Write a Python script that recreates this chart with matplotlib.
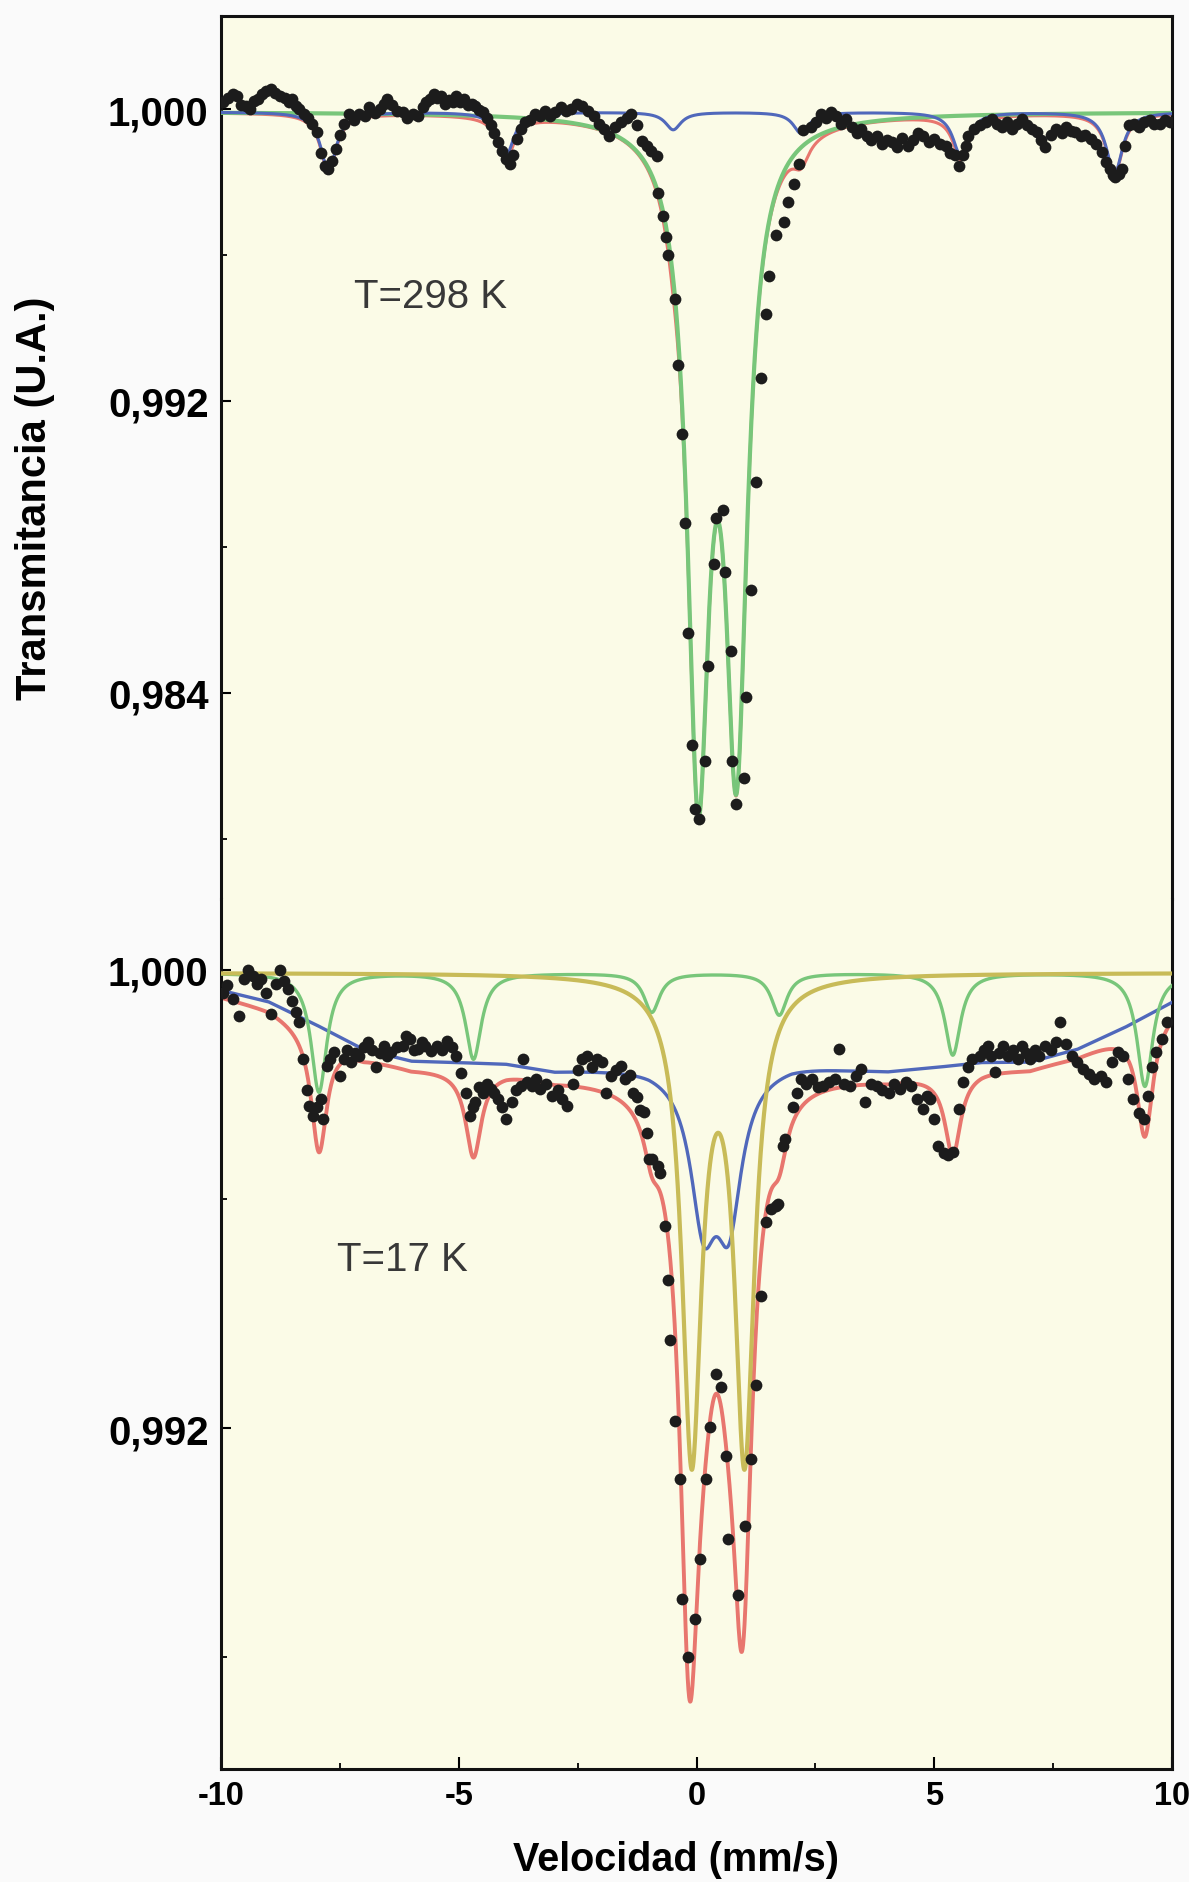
import numpy as np
import matplotlib
matplotlib.use("Agg")
import matplotlib.pyplot as plt
from matplotlib.ticker import FixedLocator, FuncFormatter

# ---------------- T = 298 K : measured points (velocity mm/s, transmission) ----------------
top_points = [
    (-9.95, 1.00018), (-9.85, 1.00030), (-9.75, 1.00040), (-9.67, 1.00036), (-9.58, 1.00012),
    (-9.47, 1.00009), (-9.38, 1.00000), (-9.30, 1.00022), (-9.23, 1.00027), (-9.14, 1.00040),
    (-9.05, 1.00050), (-8.95, 1.00055), (-8.86, 1.00045), (-8.75, 1.00036), (-8.66, 1.00030),
    (-8.58, 1.00020), (-8.51, 1.00027), (-8.43, 1.00008), (-8.35, 1.00000), (-8.26, 0.99985),
    (-8.17, 0.99975), (-8.08, 0.99960), (-7.98, 0.99936), (-7.90, 0.99880), (-7.82, 0.99845),
    (-7.74, 0.99836), (-7.66, 0.99858), (-7.58, 0.99890), (-7.50, 0.99930), (-7.42, 0.99960),
    (-7.30, 0.99985), (-7.20, 0.99970), (-7.10, 0.99985), (-6.98, 0.99982), (-6.88, 1.00005),
    (-6.76, 0.99990), (-6.66, 1.00000), (-6.58, 1.00015), (-6.50, 1.00027), (-6.40, 1.00010),
    (-6.30, 0.99995), (-6.18, 0.99991), (-6.08, 0.99975), (-5.97, 0.99985), (-5.86, 0.99982),
    (-5.75, 1.00005), (-5.68, 1.00020), (-5.61, 1.00027), (-5.52, 1.00040), (-5.45, 1.00030),
    (-5.37, 1.00036), (-5.28, 1.00015), (-5.20, 1.00025), (-5.13, 1.00018), (-5.05, 1.00035),
    (-4.97, 1.00020), (-4.89, 1.00027), (-4.80, 1.00010), (-4.72, 1.00015), (-4.65, 1.00009),
    (-4.57, 0.99998), (-4.49, 0.99991), (-4.41, 0.99975), (-4.33, 0.99955), (-4.25, 0.99935),
    (-4.17, 0.99909), (-4.09, 0.99885), (-4.01, 0.99864), (-3.93, 0.99850), (-3.85, 0.99875),
    (-3.77, 0.99918), (-3.69, 0.99945), (-3.61, 0.99964), (-3.50, 0.99970), (-3.40, 0.99985),
    (-3.29, 0.99982), (-3.18, 0.99995), (-3.08, 0.99980), (-2.97, 0.99991), (-2.86, 1.00005),
    (-2.75, 0.99995), (-2.64, 1.00000), (-2.52, 1.00015), (-2.40, 1.00009), (-2.28, 0.99995),
    (-2.16, 0.99982), (-2.05, 0.99960), (-1.94, 0.99945), (-1.83, 0.99927), (-1.71, 0.99950),
    (-1.59, 0.99964), (-1.47, 0.99975), (-1.37, 0.99985), (-1.26, 0.99956), (-1.15, 0.99912),
    (-1.05, 0.99900), (-0.95, 0.99885), (-0.84, 0.99871), (-0.80, 0.99770), (-0.70, 0.99707),
    (-0.64, 0.99649), (-0.59, 0.99600), (-0.46, 0.99479), (-0.38, 0.99299), (-0.31, 0.99110),
    (-0.25, 0.98866), (-0.17, 0.98564), (-0.10, 0.98257), (-0.04, 0.98082), (0.06, 0.98055),
    (0.17, 0.98215), (0.25, 0.98474), (0.36, 0.98753), (0.42, 0.98879), (0.55, 0.98901),
    (0.59, 0.98731), (0.72, 0.98515), (0.75, 0.98215), (0.84, 0.98096), (0.99, 0.98167),
    (1.05, 0.98389), (1.15, 0.98683), (1.26, 0.98977), (1.36, 0.99263), (1.47, 0.99438),
    (1.53, 0.99542), (1.68, 0.99655), (1.83, 0.99690), (1.93, 0.99745), (2.04, 0.99795),
    (2.16, 0.99850), (2.25, 0.99942), (2.40, 0.99950), (2.51, 0.99964), (2.62, 0.99985),
    (2.72, 0.99975), (2.83, 0.99991), (2.94, 0.99980), (3.04, 0.99960), (3.15, 0.99973),
    (3.26, 0.99950), (3.37, 0.99935), (3.47, 0.99945), (3.58, 0.99925), (3.68, 0.99915),
    (3.79, 0.99927), (3.90, 0.99905), (4.00, 0.99915), (4.11, 0.99909), (4.22, 0.99895),
    (4.33, 0.99920), (4.44, 0.99900), (4.55, 0.99915), (4.66, 0.99935), (4.76, 0.99927),
    (4.88, 0.99910), (5.00, 0.99918), (5.12, 0.99905), (5.24, 0.99900), (5.34, 0.99880),
    (5.44, 0.99873), (5.52, 0.99845), (5.60, 0.99873), (5.66, 0.99900), (5.72, 0.99927),
    (5.84, 0.99945), (5.96, 0.99955), (6.08, 0.99965), (6.21, 0.99973), (6.32, 0.99960),
    (6.43, 0.99950), (6.53, 0.99964), (6.64, 0.99945), (6.74, 0.99960), (6.84, 0.99973),
    (6.95, 0.99955), (7.06, 0.99945), (7.17, 0.99936), (7.25, 0.99915), (7.33, 0.99895),
    (7.45, 0.99930), (7.57, 0.99945), (7.68, 0.99935), (7.78, 0.99950), (7.88, 0.99940),
    (7.97, 0.99936), (8.08, 0.99925), (8.18, 0.99930), (8.29, 0.99918), (8.40, 0.99905),
    (8.53, 0.99882), (8.62, 0.99855), (8.69, 0.99836), (8.76, 0.99818), (8.81, 0.99813),
    (8.88, 0.99822), (8.94, 0.99836), (9.02, 0.99900), (9.10, 0.99955), (9.20, 0.99960),
    (9.31, 0.99950), (9.42, 0.99964), (9.53, 0.99970), (9.63, 0.99960), (9.74, 0.99959),
    (9.85, 0.99970), (9.95, 0.99964),
]

# T = 298 K fitted sub-spectra (line positions, depths, half widths)
top_baseline = 0.99992
top_sextet_pos = [-7.74, -4.01, -0.49, 2.20, 5.56, 8.79]
top_sextet_depth = [0.00160, 0.00120, 0.00048, 0.00058, 0.00120, 0.00170]
top_sextet_hwhm = [0.20, 0.20, 0.20, 0.20, 0.20, 0.20]
top_doublet_pos = [0.036, 0.84]
top_doublet_depth = [0.0175, 0.0168]
top_doublet_hwhm = [0.28, 0.28]

# ---------------- T = 17 K : measured points ----------------
bot_points = [
    (-9.95, 0.99960), (-9.87, 0.99973), (-9.75, 0.99950), (-9.63, 0.99920), (-9.52, 0.99985),
    (-9.43, 1.00000), (-9.33, 0.99990), (-9.24, 0.99975), (-9.15, 0.99984), (-9.05, 0.99960),
    (-8.95, 0.99923), (-8.85, 0.99975), (-8.75, 1.00000), (-8.67, 0.99980), (-8.59, 0.99967),
    (-8.51, 0.99945), (-8.43, 0.99927), (-8.35, 0.99909), (-8.27, 0.99844), (-8.20, 0.99790),
    (-8.14, 0.99763), (-8.06, 0.99745), (-7.98, 0.99760), (-7.90, 0.99775), (-7.86, 0.99740),
    (-7.78, 0.99833), (-7.70, 0.99845), (-7.62, 0.99857), (-7.50, 0.99815), (-7.42, 0.99844),
    (-7.34, 0.99860), (-7.26, 0.99839), (-7.18, 0.99855), (-7.10, 0.99850), (-7.00, 0.99865),
    (-6.90, 0.99874), (-6.82, 0.99860), (-6.74, 0.99830), (-6.66, 0.99855), (-6.58, 0.99868),
    (-6.50, 0.99850), (-6.42, 0.99857), (-6.30, 0.99865), (-6.18, 0.99868), (-6.10, 0.99885),
    (-6.02, 0.99879), (-5.94, 0.99860), (-5.86, 0.99862), (-5.78, 0.99875), (-5.70, 0.99868),
    (-5.58, 0.99858), (-5.46, 0.99868), (-5.35, 0.99860), (-5.25, 0.99876), (-5.15, 0.99865),
    (-5.05, 0.99850), (-4.95, 0.99820), (-4.85, 0.99786), (-4.77, 0.99745), (-4.71, 0.99760),
    (-4.65, 0.99769), (-4.57, 0.99795), (-4.49, 0.99786), (-4.41, 0.99800), (-4.33, 0.99792),
    (-4.25, 0.99785), (-4.17, 0.99775), (-4.09, 0.99760), (-4.01, 0.99740), (-3.89, 0.99769),
    (-3.79, 0.99790), (-3.69, 0.99798), (-3.65, 0.99844), (-3.57, 0.99805), (-3.45, 0.99798),
    (-3.37, 0.99810), (-3.29, 0.99792), (-3.17, 0.99800), (-3.04, 0.99780), (-2.92, 0.99790),
    (-2.82, 0.99775), (-2.72, 0.99763), (-2.60, 0.99800), (-2.50, 0.99825), (-2.40, 0.99844),
    (-2.31, 0.99850), (-2.20, 0.99830), (-2.10, 0.99845), (-1.99, 0.99839), (-1.91, 0.99786),
    (-1.80, 0.99815), (-1.70, 0.99825), (-1.59, 0.99833), (-1.50, 0.99810), (-1.40, 0.99817),
    (-1.34, 0.99786), (-1.26, 0.99778), (-1.19, 0.99755), (-1.10, 0.99752), (-1.05, 0.99716),
    (-0.99, 0.99670), (-0.94, 0.99669), (-0.82, 0.99658), (-0.77, 0.99645), (-0.67, 0.99552),
    (-0.59, 0.99458), (-0.56, 0.99354), (-0.46, 0.99213), (-0.35, 0.99111), (-0.31, 0.98901),
    (-0.17, 0.98800), (-0.04, 0.98866), (0.07, 0.98971), (0.21, 0.99111), (0.28, 0.99202),
    (0.42, 0.99295), (0.52, 0.99271), (0.63, 0.99151), (0.66, 0.99006), (0.88, 0.98908),
    (1.01, 0.99029), (1.15, 0.99146), (1.26, 0.99275), (1.36, 0.99431), (1.47, 0.99560),
    (1.57, 0.99583), (1.67, 0.99588), (1.71, 0.99591), (1.82, 0.99693), (1.87, 0.99705),
    (2.03, 0.99760), (2.11, 0.99785), (2.19, 0.99810), (2.31, 0.99800), (2.43, 0.99810),
    (2.55, 0.99795), (2.67, 0.99798), (2.79, 0.99805), (2.91, 0.99810), (2.99, 0.99862),
    (3.11, 0.99800), (3.23, 0.99798), (3.35, 0.99815), (3.47, 0.99827), (3.55, 0.99769),
    (3.67, 0.99800), (3.79, 0.99798), (3.91, 0.99790), (4.04, 0.99786), (4.16, 0.99800),
    (4.28, 0.99792), (4.40, 0.99805), (4.52, 0.99798), (4.64, 0.99775), (4.76, 0.99757),
    (4.84, 0.99780), (4.92, 0.99775), (5.00, 0.99740), (5.08, 0.99693), (5.20, 0.99680),
    (5.28, 0.99676), (5.40, 0.99682), (5.52, 0.99757), (5.60, 0.99804), (5.70, 0.99830),
    (5.80, 0.99845), (5.96, 0.99850), (6.04, 0.99860), (6.12, 0.99868), (6.20, 0.99850),
    (6.28, 0.99822), (6.36, 0.99855), (6.44, 0.99868), (6.56, 0.99850), (6.66, 0.99860),
    (6.76, 0.99845), (6.84, 0.99868), (6.93, 0.99855), (7.01, 0.99844), (7.11, 0.99860),
    (7.21, 0.99850), (7.33, 0.99868), (7.45, 0.99860), (7.55, 0.99875), (7.65, 0.99909),
    (7.77, 0.99870), (7.89, 0.99850), (8.01, 0.99840), (8.13, 0.99827), (8.25, 0.99818),
    (8.37, 0.99810), (8.50, 0.99815), (8.62, 0.99804), (8.74, 0.99840), (8.86, 0.99857),
    (8.98, 0.99850), (9.08, 0.99810), (9.17, 0.99775), (9.30, 0.99750), (9.42, 0.99740),
    (9.50, 0.99780), (9.58, 0.99830), (9.66, 0.99857), (9.78, 0.99880), (9.90, 0.99909),
]

# T = 17 K fitted sub-spectra
bot_bg_v = [-10, -9, -8, -7, -6, -5, -4, -3, -2, -1, 0, 1, 2, 3, 4, 5, 6, 7, 8, 9, 10]
bot_bg_t = [0.99965, 0.99945, 0.99905, 0.99862, 0.99842, 0.99840, 0.99838, 0.99826,
            0.99830, 0.99835, 0.99830, 0.99835, 0.99840, 0.99832, 0.99826, 0.99832,
            0.99840, 0.99840, 0.99862, 0.99900, 0.99944]
bot_blue_doublet_pos = [0.15, 0.68]
bot_blue_doublet_depth = [0.00245, 0.00245]
bot_blue_doublet_hwhm = [0.33, 0.33]
bot_sextet_baseline = 0.99995
bot_sextet_pos = [-7.94, -4.69, -0.94, 1.74, 5.39, 9.43]
bot_sextet_depth = [0.00208, 0.00150, 0.00068, 0.00073, 0.00143, 0.00198]
bot_sextet_hwhm = [0.20, 0.20, 0.20, 0.20, 0.20, 0.20]
bot_yellow_baseline = 0.99995
bot_yellow_pos = [-0.10, 1.01]
bot_yellow_depth = [0.00828, 0.00828]
bot_yellow_hwhm = [0.25, 0.25]
bot_total_offset = 0.00010
bot_total_doublet_pos = [-0.15, 0.97]
bot_total_doublet_depth = [0.00886, 0.00793]
bot_total_doublet_hwhm = [0.24, 0.24]

x_major = [-10, -5, 0, 5, 10]
x_minor = [-7.5, -2.5, 2.5, 7.5]
top_y_major = [0.984, 0.992, 1.000]
top_y_minor = [0.980, 0.988, 0.996]
bot_y_major = [0.992, 1.000]
bot_y_minor = [0.988, 0.996]

# ---------------- styling ----------------
FONT = ['Liberation Sans', 'DejaVu Sans']
plt.rcParams['font.family'] = FONT
plt.rcParams['axes.unicode_minus'] = False
C_BLUE = '#5068bb'
C_GREEN = '#78c67a'
C_RED = '#e8766e'
C_YEL = '#c8bb58'
C_DOT = '#1c1c1c'
C_AX = '#fbfbe7'


def lorentz_sum(v, pos, depth, hwhm):
    out = np.zeros_like(v)
    for p, d, w in zip(pos, depth, hwhm):
        out += d / (1.0 + ((v - p) / w) ** 2)
    return out


vg = np.linspace(-10, 10, 4001)

# top curves
top_blue = top_baseline - lorentz_sum(vg, top_sextet_pos, top_sextet_depth, top_sextet_hwhm)
top_green = top_baseline - lorentz_sum(vg, top_doublet_pos, top_doublet_depth, top_doublet_hwhm)
top_red = top_blue + top_green - top_baseline

# bottom curves
bg = np.interp(vg, bot_bg_v, bot_bg_t)
bdbl = lorentz_sum(vg, bot_blue_doublet_pos, bot_blue_doublet_depth, bot_blue_doublet_hwhm)
bsex = lorentz_sum(vg, bot_sextet_pos, bot_sextet_depth, bot_sextet_hwhm)
bot_blue = bg - bdbl
bot_green = bot_sextet_baseline - bsex
bot_yellow = bot_yellow_baseline - lorentz_sum(vg, bot_yellow_pos, bot_yellow_depth, bot_yellow_hwhm)
bot_red = (bg - bot_total_offset - bdbl - bsex
           - lorentz_sum(vg, bot_total_doublet_pos, bot_total_doublet_depth, bot_total_doublet_hwhm))

W, H = 1189, 1883
fig = plt.figure(figsize=(W / 100, H / 100), dpi=100, facecolor='#fafafa')

L = 221.0 / W
R = 1172.0 / W
ax_top = fig.add_axes([L, 1 - 900 / H, R - L, (900 - 17) / H])
ax_bot = fig.add_axes([L, 1 - 1770 / H, R - L, (1770 - 900) / H])

fmt = FuncFormatter(lambda y, _: f"{y:.3f}".replace(".", ","))

for ax in (ax_top, ax_bot):
    ax.set_facecolor(C_AX)
    ax.set_xlim(-10, 10)
    for s in ax.spines.values():
        s.set_linewidth(2.2)
        s.set_color('#111111')
    ax.yaxis.set_major_formatter(fmt)
    ax.tick_params(axis='y', which='major', direction='in', length=7, width=1.5,
                   labelsize=29, pad=9, right=False)
    ax.tick_params(axis='y', which='minor', direction='in', length=4.5, width=1.3, right=False)

ax_top.spines['bottom'].set_visible(False)
ax_bot.spines['top'].set_visible(False)

# top axes
ax_top.set_ylim(0.978356, 1.002548)
ax_top.yaxis.set_major_locator(FixedLocator(top_y_major))
ax_top.yaxis.set_minor_locator(FixedLocator(top_y_minor))
ax_top.tick_params(axis='x', which='both', bottom=False, top=False, labelbottom=False)

ax_top.plot(vg, top_red, color=C_RED, lw=2.2, zorder=2)
ax_top.plot(vg, top_green, color=C_GREEN, lw=3.0, zorder=3)
ax_top.plot(vg, top_blue, color=C_BLUE, lw=2.2, zorder=4)
tx, ty = zip(*top_points)
ax_top.scatter(tx, ty, s=72, color=C_DOT, zorder=5, linewidths=0)
ax_top.text(-5.6, 0.99488, 'T=298 K', fontsize=29, color='#383838', ha='center', va='center')

# bottom axes
ax_bot.set_ylim(0.986044, 1.00124)
ax_bot.yaxis.set_major_locator(FixedLocator(bot_y_major))
ax_bot.yaxis.set_minor_locator(FixedLocator(bot_y_minor))
ax_bot.xaxis.set_major_locator(FixedLocator(x_major))
ax_bot.xaxis.set_minor_locator(FixedLocator(x_minor))
ax_bot.xaxis.set_major_formatter(FuncFormatter(lambda x, _: f"{x:g}"))
ax_bot.tick_params(axis='x', which='major', direction='in', length=8.5, width=1.5,
                   labelsize=23.5, pad=8, top=False)
ax_bot.tick_params(axis='x', which='minor', direction='in', length=4.5, width=1.3, top=False)

ax_bot.plot(vg, bot_red, color=C_RED, lw=2.8, zorder=2)
ax_bot.plot(vg, bot_blue, color=C_BLUE, lw=2.4, zorder=3)
ax_bot.plot(vg, bot_green, color=C_GREEN, lw=2.4, zorder=3)
ax_bot.plot(vg, bot_yellow, color=C_YEL, lw=3.0, zorder=4)
bx, by = zip(*bot_points)
ax_bot.scatter(bx, by, s=72, color=C_DOT, zorder=5, linewidths=0)
ax_bot.text(-6.18, 0.99495, 'T=17 K', fontsize=29, color='#383838', ha='center', va='center')

for ax in (ax_top, ax_bot):
    for lab in ax.get_yticklabels() + ax.get_xticklabels():
        lab.set_fontweight('bold')

fig.text(35 / W, 1 - 498 / H, 'Transmitancia (U.A.)', rotation=90, fontsize=30,
         fontweight='bold', ha='center', va='center')
fig.text(676 / W, 1 - 1860 / H, 'Velocidad (mm/s)', fontsize=28.5, fontweight='bold',
         ha='center', va='center')

fig.savefig('out.png', dpi=100, facecolor=fig.get_facecolor())
